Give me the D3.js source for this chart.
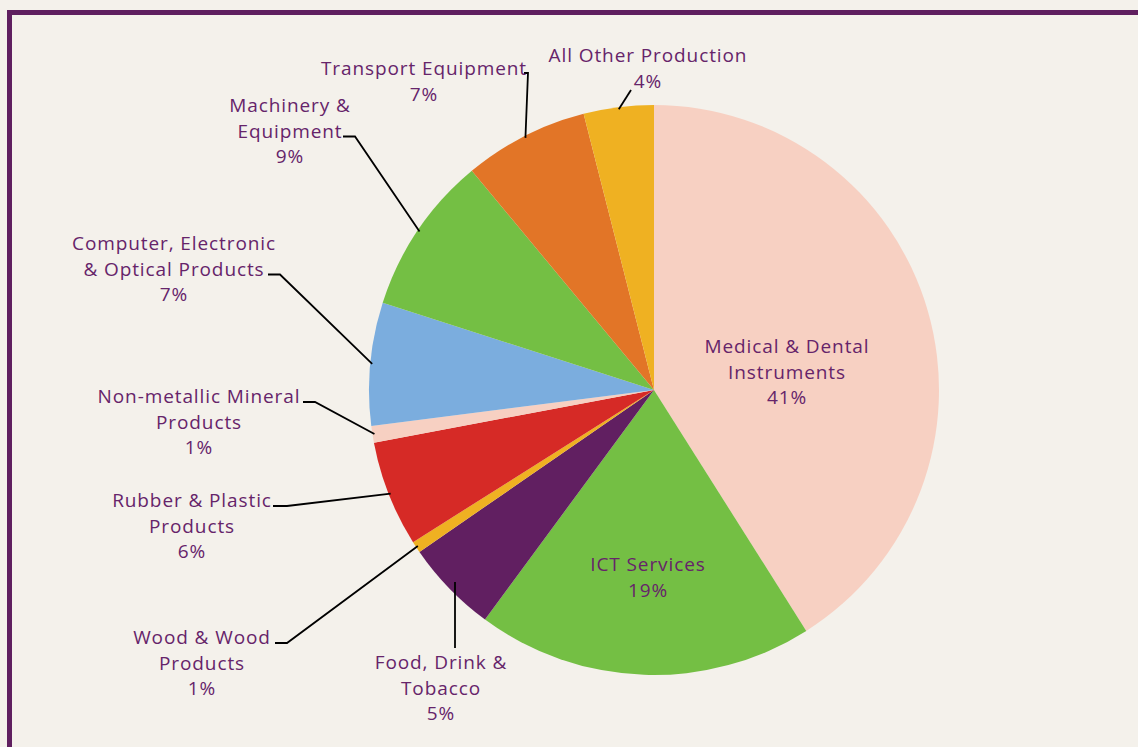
<!DOCTYPE html>
<html>
<head>
<meta charset="utf-8">
<script src="https://cdn.jsdelivr.net/npm/d3@7"></script>
<style>
  html, body { margin: 0; padding: 0; background: #f4f1eb; }
  svg { display: block; }
</style>
</head>
<body>
<svg id="chart" width="1138" height="747"></svg>
<script>
// ---- data ----
const categories = [
  "Medical & Dental Instruments",
  "ICT Services",
  "Food, Drink & Tobacco",
  "Wood & Wood Products",
  "Rubber & Plastic Products",
  "Non-metallic Mineral Products",
  "Computer, Electronic & Optical Products",
  "Machinery & Equipment",
  "Transport Equipment",
  "All Other Production"
];
const values = [41.0, 19.06, 5.28, 0.65, 6.0, 0.94, 6.97, 9.0, 7.06, 3.97];
const percentLabels = ["41%", "19%", "5%", "1%", "6%", "1%", "7%", "9%", "7%", "4%"];
const labelLines = [
  ["Medical & Dental", "Instruments"],
  ["ICT Services"],
  ["Food, Drink &", "Tobacco"],
  ["Wood & Wood", "Products"],
  ["Rubber & Plastic", "Products"],
  ["Non-metallic Mineral", "Products"],
  ["Computer, Electronic", "& Optical Products"],
  ["Machinery &", "Equipment"],
  ["Transport Equipment"],
  ["All Other Production"]
];

// ---- styles / layout ----
const colors = ["#f7d0c2", "#74bf44", "#611f61", "#efb122", "#d62a26",
                "#f7d0c2", "#7badde", "#74bf44", "#e27527", "#efb122"];
const textColor = "#66246a";
const cx = 654, cy = 390, R = 285;
const lineH = 25.5;

const labelLayout = [
  { x: 787, y: 346, inside: true },
  { x: 648, y: 564, inside: true },
  { x: 441, y: 662, leader: "vertical", vx: 455, ly: 648 },
  { x: 202, y: 637, leader: "elbow", line: 0, ex: 275, elbow: 287 },
  { x: 192, y: 500, leader: "elbow", line: 0, ex: 273, elbow: 287 },
  { x: 199, y: 396, leader: "elbow", line: 0, ex: 303, elbow: 315 },
  { x: 174, y: 243, leader: "elbow", line: 1, ex: 268, elbow: 280 },
  { x: 290, y: 105, leader: "elbow", line: 1, ex: 343, elbow: 355 },
  { x: 424, y: 68, leader: "up", ex: 524, elbow: 528 },
  { x: 648, y: 55, leader: "direct", sx: 631, sy: 90 }
];

const svg = d3.select("#chart");

svg.append("rect").attr("width", 1138).attr("height", 747).attr("fill", "#f4f1eb");
svg.append("rect")
  .attr("x", 9.5).attr("y", 12.5).attr("width", 1200).attr("height", 800)
  .attr("fill", "none").attr("stroke", "#5f1f5f").attr("stroke-width", 5);

const pie = d3.pie().value(d => d).sort(null);
const arcs = pie(values);
const arc = d3.arc().innerRadius(0).outerRadius(R);

const g = svg.append("g").attr("transform", `translate(${cx},${cy})`);
g.selectAll("path.slice")
  .data(arcs)
  .join("path")
  .attr("class", "slice")
  .attr("d", arc)
  .attr("fill", (d, i) => colors[i]);

const edgeR = 283;
function edgePoint(d) {
  const a = (d.startAngle + d.endAngle) / 2;
  return [cx + edgeR * Math.sin(a), cy - edgeR * Math.cos(a)];
}
const leaderG = svg.append("g").attr("fill", "none").attr("stroke", "#000").attr("stroke-width", 1.8);
arcs.forEach((d, i) => {
  const L = labelLayout[i];
  if (L.inside) return;
  const [px, py] = edgePoint(d);
  let pts;
  if (L.leader === "elbow") {
    const ly = L.y + L.line * lineH + 6;
    pts = [[L.ex, ly], [L.elbow, ly], [px, py]];
  } else if (L.leader === "up") {
    const ly = L.y + 5;
    pts = [[L.ex, ly], [L.elbow, ly], [px, py]];
  } else if (L.leader === "vertical") {
    // vertical segment starting inside the slice, just under its outer edge
    const a = (d.startAngle + d.endAngle) / 2;
    const dx = L.vx - cx;
    const yEdge = cy + Math.sqrt(R * R - dx * dx) - 12;
    pts = [[L.vx, yEdge], [L.vx, L.ly]];
  } else {
    pts = [[L.sx, L.sy], [px, py]];
  }
  leaderG.append("path").attr("d", d3.line()(pts));
});

const labelG = svg.append("g")
  .attr("font-family", "'Open Sans', 'DejaVu Sans', sans-serif")
  .attr("font-size", 19)
  .attr("fill", textColor)
  .attr("text-anchor", "middle");
arcs.forEach((d, i) => {
  const L = labelLayout[i];
  const lines = labelLines[i].concat([percentLabels[i]]);
  const t = labelG.append("text")
    .attr("x", L.x).attr("y", L.y)
    .attr("dominant-baseline", "central")
    .style("letter-spacing", "0.9px");
  lines.forEach((s, j) => {
    t.append("tspan").attr("x", L.x).attr("y", L.y + j * lineH).text(s);
  });
});
</script>
</body>
</html>
